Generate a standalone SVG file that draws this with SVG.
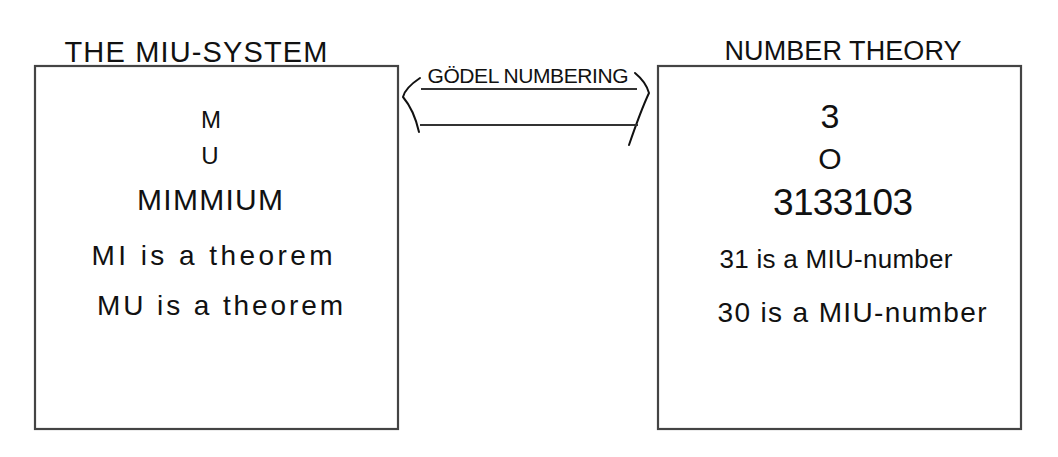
<svg xmlns="http://www.w3.org/2000/svg" width="1058" height="457" viewBox="0 0 1058 457">
<style>
.box{fill:#fff;stroke:#444;stroke-width:2.2}
.t{font-family:"Liberation Sans","DejaVu Sans",sans-serif;fill:#111;text-anchor:middle}
.ink{fill:none;stroke:#111;stroke-width:2;stroke-linecap:round;stroke-linejoin:round}
.rule{fill:none;stroke:#333;stroke-width:2}
</style>
<rect width="1058" height="457" fill="#fff"/>
<g id="miu-system">
<rect class="box" x="35" y="66" width="363" height="363"/>
<text class="t" x="196" y="62" font-size="29" textLength="263" lengthAdjust="spacing">THE  MIU-SYSTEM</text>
<text class="t" x="211" y="128" font-size="24">M</text>
<text class="t" x="210" y="164" font-size="24">U</text>
<text class="t" x="210" y="210" font-size="30" textLength="146" lengthAdjust="spacing">MIMMIUM</text>
<text class="t" x="212" y="265" font-size="28" textLength="241" lengthAdjust="spacing">MI is a theorem</text>
<text class="t" x="220" y="315" font-size="28" textLength="246" lengthAdjust="spacing">MU is a theorem</text>
</g>
<g id="number-theory">
<rect class="box" x="658" y="66" width="363" height="363"/>
<text class="t" x="843" y="60" font-size="27" textLength="237" lengthAdjust="spacing">NUMBER THEORY</text>
<text class="t" x="830" y="128" font-size="34">3</text>
<text class="t" x="830" y="169" font-size="30">O</text>
<text class="t" x="843" y="215" font-size="37" textLength="140" lengthAdjust="spacing">3133103</text>
<text class="t" x="836" y="268" font-size="26" textLength="233" lengthAdjust="spacing">31 is a MIU-number</text>
<text class="t" x="852" y="322" font-size="28" textLength="269" lengthAdjust="spacing">30 is a MIU-number</text>
</g>
<g id="connectors">
<path class="ink" d="M420,78 Q405,88 403,97 Q414,110 419,132"/>
<path class="ink" d="M635,73 Q646,82 649,93 Q641,110 629,145"/>
<line class="rule" x1="421" y1="89" x2="637" y2="89"/>
<line class="rule" x1="420" y1="125" x2="638" y2="125"/>
<text class="t" x="528" y="83" font-size="21" textLength="201" lengthAdjust="spacing">GÖDEL NUMBERING</text>
</g>
</svg>
